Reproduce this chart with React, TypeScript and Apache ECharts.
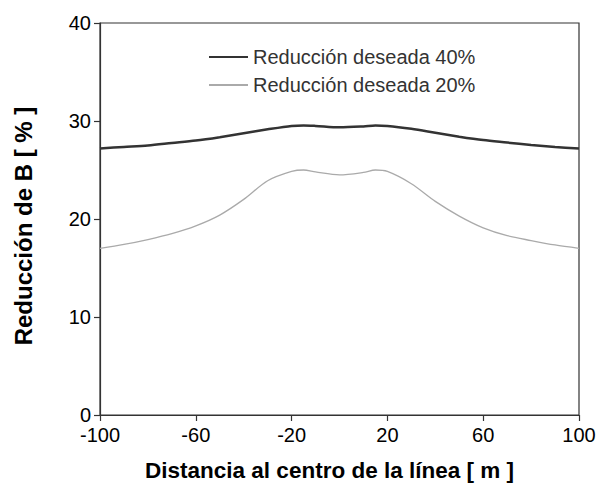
import React, { useEffect, useRef } from "react";
import * as echarts from "echarts";

const distances = [-100, -90, -80, -70, -60, -50, -40, -30, -20, -15, -10, 0, 10, 15, 20, 30, 40, 50, 60, 70, 80, 90, 100];
const reduction40 = [27.2, 27.35, 27.5, 27.75, 28.0, 28.35, 28.75, 29.15, 29.5, 29.55, 29.5, 29.35, 29.45, 29.55, 29.5, 29.2, 28.8, 28.4, 28.05, 27.8, 27.55, 27.35, 27.2];
const reduction20 = [17.0, 17.4, 17.9, 18.5, 19.3, 20.4, 22.0, 23.9, 24.85, 25.0, 24.8, 24.5, 24.75, 25.0, 24.85, 23.6, 21.8, 20.3, 19.1, 18.3, 17.8, 17.35, 17.0];
const seriesNames = ["Reducción deseada 40%", "Reducción deseada 20%"];
const xTitle = "Distancia al centro de la línea [ m ]";
const yTitle = "Reducción de B [ % ]";

export default function App() {
  const ref = useRef<HTMLDivElement>(null);
  useEffect(() => {
    document.body.style.margin = "0";
    if (!ref.current) return;
    const chart = echarts.init(ref.current, null, { renderer: "svg" });
    const font = "Liberation Sans, Arial, sans-serif";
    const axisColor = "#333";
    chart.setOption({
      animation: false,
      backgroundColor: "#fff",
      textStyle: { fontFamily: font },
      grid: {
        left: 100,
        right: 23,
        top: 23,
        bottom: 76,
        show: true,
        borderColor: axisColor,
        borderWidth: 1.2,
        backgroundColor: "transparent",
      },
      legend: {
        orient: "vertical",
        left: 203,
        top: 42,
        itemWidth: 39,
        itemHeight: 14,
        itemGap: 8,
        itemStyle: { opacity: 0 },
        data: seriesNames,
        textStyle: { fontSize: 20, lineHeight: 20, color: "#333", fontFamily: font },
      },
      xAxis: {
        type: "value",
        min: -100,
        max: 100,
        interval: 40,
        name: xTitle,
        nameLocation: "middle",
        nameGap: 44,
        nameTextStyle: { fontSize: 22.5, fontWeight: "bold", color: "#000", fontFamily: font, padding: [0, 20, 0, 0] },
        axisLine: { show: true, onZero: false, lineStyle: { color: axisColor, width: 1.2 } },
        axisTick: { show: true, inside: false, length: 6, lineStyle: { color: axisColor, width: 1.2 } },
        axisLabel: { fontSize: 20, lineHeight: 18, color: "#000", margin: 11, fontFamily: font },
        splitLine: { show: false },
      },
      yAxis: {
        type: "value",
        min: 0,
        max: 40,
        interval: 10,
        name: yTitle,
        nameLocation: "middle",
        nameGap: 65,
        nameTextStyle: { fontSize: 24, fontWeight: "bold", color: "#000", fontFamily: font, padding: [0, 14, 0, 0] },
        axisLine: { show: true, onZero: false, lineStyle: { color: axisColor, width: 1.2 } },
        axisTick: { show: true, inside: false, length: 6, lineStyle: { color: axisColor, width: 1.2 } },
        axisLabel: { fontSize: 20, lineHeight: 16, color: "#000", margin: 9, fontFamily: font },
        splitLine: { show: false },
      },
      series: [
        {
          name: seriesNames[0],
          type: "line",
          smooth: 0.3,
          symbol: "none",
          data: distances.map((d, i) => [d, reduction40[i]]),
          lineStyle: { color: "#333", width: 2.5 },
          itemStyle: { color: "#333" },
        },
        {
          name: seriesNames[1],
          type: "line",
          smooth: 0.3,
          symbol: "none",
          data: distances.map((d, i) => [d, reduction20[i]]),
          lineStyle: { color: "#aaa", width: 1.3 },
          itemStyle: { color: "#aaa" },
        },
      ],
    });
    return () => chart.dispose();
  }, []);
  return <div ref={ref} style={{ width: 602, height: 491 }} />;
}
